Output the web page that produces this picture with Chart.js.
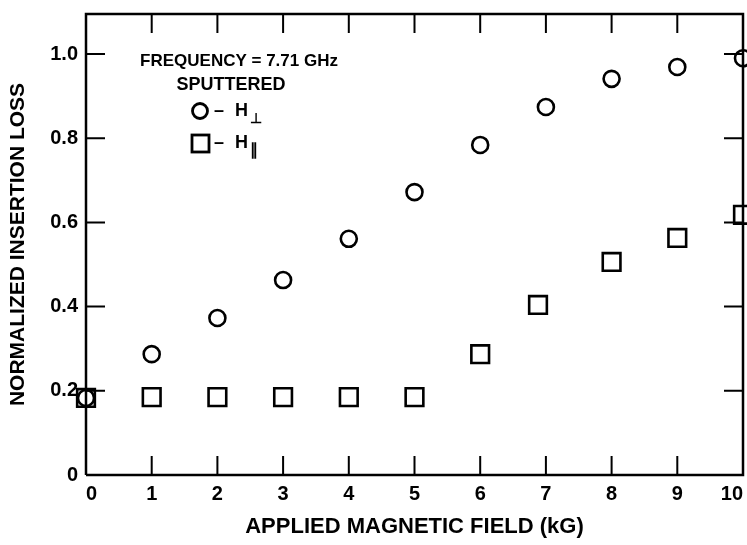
<!DOCTYPE html>
<html>
<head>
<meta charset="utf-8">
<script src="https://cdn.jsdelivr.net/npm/chart.js@4.4.0/dist/chart.umd.min.js"></script>
<style>
  html, body { margin: 0; padding: 0; background: #fff; overflow: hidden; }
  #wrap { width: 747px; height: 545px; position: relative; }
</style>
</head>
<body>
<div id="wrap"><canvas id="lossChart"></canvas></div>
<script>
// values: field in kG, normalized insertion loss
const fieldPerp = [0, 1, 2, 3, 4, 5, 6, 7, 8, 9, 10]
const lossPerp = [0.183, 0.287, 0.373, 0.463, 0.561, 0.672, 0.784, 0.874, 0.941, 0.969, 0.99]
const fieldPar = [0, 1, 2, 3, 4, 5, 6, 6.88, 8, 9, 10]
const lossPar = [0.183, 0.185, 0.185, 0.185, 0.185, 0.185, 0.287, 0.404, 0.506, 0.563, 0.618]

const xTicks = [0, 1, 2, 3, 4, 5, 6, 7, 8, 9, 10]
const xTickLabels = ["0", "1", "2", "3", "4", "5", "6", "7", "8", "9", "10"]
const yTicks = [0, 0.2, 0.4, 0.6, 0.8, 1.0]
const yTickLabels = ["0", "0.2", "0.4", "0.6", "0.8", "1.0"]

const FONT = "'Liberation Sans', Arial, Helvetica, sans-serif"

function toPoints(xs, ys) {
  return xs.map((x, i) => ({ x: x, y: ys[i] }))
}

// frame with inward ticks on all four sides
const framePlugin = {
  id: "frame",
  afterDraw(chart) {
    const ctx = chart.ctx
    const a = chart.chartArea
    const xs = chart.scales.x
    const ys = chart.scales.y
    const tl = 19
    ctx.save()
    ctx.strokeStyle = "#000"
    ctx.lineWidth = 2.5
    ctx.beginPath()
    ctx.moveTo(a.left, a.bottom)
    ctx.lineTo(a.left, a.top)
    ctx.lineTo(a.right, a.top)
    ctx.lineTo(a.right, a.bottom)
    ctx.lineTo(a.left, a.bottom)
    ctx.stroke()
    ctx.lineWidth = 2
    ctx.beginPath()
    xTicks.forEach(v => {
      if (v === xs.min || v === xs.max) return
      const px = xs.getPixelForValue(v)
      ctx.moveTo(px, a.bottom)
      ctx.lineTo(px, a.bottom - tl)
      ctx.moveTo(px, a.top)
      ctx.lineTo(px, a.top + tl)
    })
    yTicks.forEach(v => {
      if (v === ys.min) return
      const py = ys.getPixelForValue(v)
      ctx.moveTo(a.left, py)
      ctx.lineTo(a.left + tl, py)
      ctx.moveTo(a.right, py)
      ctx.lineTo(a.right - tl, py)
    })
    ctx.stroke()
    ctx.restore()
  },
}

// the note block in the upper left of the plot
const notesPlugin = {
  id: "notes",
  afterDraw(chart) {
    const ctx = chart.ctx
    const a = chart.chartArea
    const l = a.left
    const t = a.top
    ctx.save()
    ctx.fillStyle = "#000"
    ctx.strokeStyle = "#000"
    ctx.textBaseline = "middle"
    ctx.textAlign = "center"
    ctx.font = "bold 17px " + FONT
    ctx.fillText("FREQUENCY = 7.71 GHz", l + 153, t + 47)
    ctx.font = "bold 18px " + FONT
    ctx.fillText("SPUTTERED", l + 145, t + 71)

    // circle row
    ctx.lineWidth = 2.8
    ctx.beginPath()
    ctx.arc(l + 114, t + 97, 7.5, 0, Math.PI * 2)
    ctx.stroke()
    ctx.textAlign = "left"
    ctx.fillText("\u2013", l + 128, t + 97)
    ctx.fillText("H", l + 149, t + 97)
    ctx.font = "bold 14px " + FONT
    ctx.fillText("\u22A5", l + 164, t + 105)

    // square row
    ctx.strokeRect(l + 106, t + 121, 17, 17)
    ctx.font = "bold 18px " + FONT
    ctx.fillText("\u2013", l + 128, t + 129)
    ctx.fillText("H", l + 149, t + 129)
    ctx.font = "bold 16px " + FONT
    ctx.fillText("\u2225", l + 164, t + 137)
    ctx.restore()
  },
}

const ctx = document.getElementById("lossChart").getContext("2d")
new Chart(ctx, {
  type: "scatter",
  data: {
    datasets: [
      {
        label: "H perp",
        data: toPoints(fieldPerp, lossPerp),
        pointStyle: "circle",
        pointRadius: 8,
        pointHoverRadius: 8,
        borderColor: "#000",
        backgroundColor: "#fff",
        pointBorderWidth: 2.6,
        clip: false,
      },
      {
        label: "H par",
        data: toPoints(fieldPar, lossPar),
        pointStyle: "rect",
        pointRadius: 12.5,
        pointHoverRadius: 12.5,
        borderColor: "#000",
        backgroundColor: "#fff",
        pointBorderWidth: 2.6,
        clip: false,
      },
    ],
  },
  options: {
    responsive: true,
    maintainAspectRatio: false,
    animation: false,
    events: [],
    layout: {
      autoPadding: false,
      padding: { left: 0, top: 14, right: 4, bottom: 0 },
    },
    plugins: {
      legend: { display: false },
      tooltip: { enabled: false },
    },
    scales: {
      x: {
        type: "linear",
        min: 0,
        max: 10,
        afterBuildTicks: scale => {
          scale.ticks = xTicks.map(v => ({ value: v }))
        },
        afterFit: scale => {
          scale.height = 70
          scale.paddingLeft = 0
          scale.paddingRight = 0
        },
        grid: { display: false, drawTicks: false },
        border: { display: false },
        ticks: {
          align: "inner",
          padding: 7,
          color: "#000",
          font: { family: FONT, size: 20, weight: "bold" },
          callback: (v, i) => xTickLabels[i],
        },
        title: {
          display: true,
          text: "APPLIED MAGNETIC FIELD (kG)",
          color: "#000",
          font: { family: FONT, size: 22, weight: "bold" },
          padding: { top: 4, bottom: 5 },
        },
      },
      y: {
        type: "linear",
        min: 0,
        max: 1.095,
        afterBuildTicks: scale => {
          scale.ticks = yTicks.map(v => ({ value: v }))
        },
        afterFit: scale => {
          scale.width = 86
          scale.paddingTop = 0
          scale.paddingBottom = 0
        },
        grid: { display: false, drawTicks: false },
        border: { display: false },
        ticks: {
          padding: 8,
          color: "#000",
          font: { family: FONT, size: 20, weight: "bold" },
          callback: (v, i) => yTickLabels[i],
        },
        title: {
          display: true,
          text: "NORMALIZED INSERTION LOSS",
          color: "#000",
          font: { family: FONT, size: 21, weight: "bold" },
          padding: { top: 6, bottom: 0 },
        },
      },
    },
  },
  plugins: [framePlugin, notesPlugin],
})
</script>
</body>
</html>
